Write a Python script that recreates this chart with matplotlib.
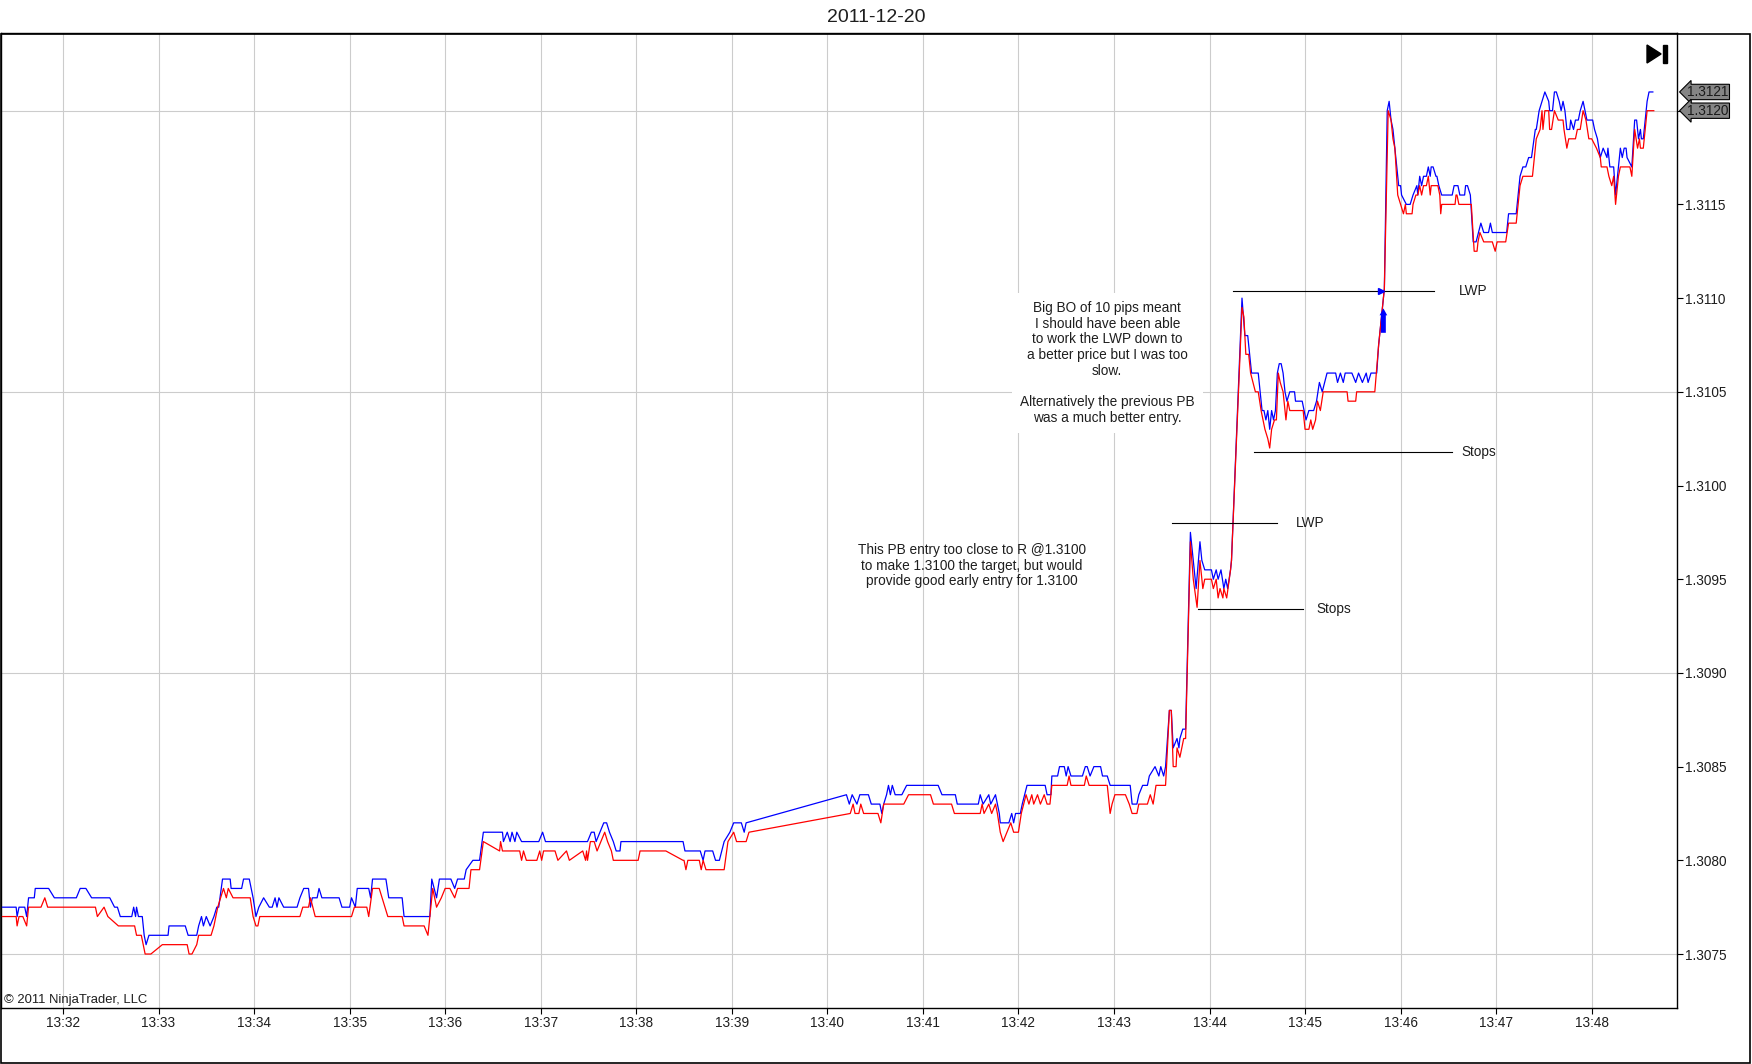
import matplotlib.pyplot as plt
from matplotlib.patches import Rectangle, Polygon
from matplotlib.transforms import blended_transform_factory

plt.rcParams['font.family'] = ['Liberation Sans', 'DejaVu Sans']

# chart title and axes
title = '2011-12-20'
tick_minutes = list(range(32, 49))
tick_labels = ['13:%02d' % m for m in tick_minutes]
price_ticks = [1.3075, 1.3080, 1.3085, 1.3090, 1.3095, 1.3100, 1.3105, 1.3110, 1.3115, 1.3120]
grid_prices = [1.3075, 1.3090, 1.3105, 1.3120]

# ask (blue) ticks: (minutes after 13:00, price)
ask_ticks = [
    (31.34, 1.30775), (31.51, 1.30775), (31.52, 1.30770), (31.54, 1.30775), (31.60, 1.30775),
    (31.62, 1.30770), (31.64, 1.30780), (31.70, 1.30780), (31.71, 1.30785), (31.85, 1.30785),
    (31.91, 1.30780), (32.14, 1.30780), (32.18, 1.30785), (32.24, 1.30785), (32.30, 1.30780),
    (32.49, 1.30780), (32.54, 1.30775), (32.57, 1.30775), (32.60, 1.30770), (32.72, 1.30770),
    (32.74, 1.30775), (32.76, 1.30770), (32.77, 1.30775), (32.79, 1.30770), (32.83, 1.30770),
    (32.85, 1.30760), (32.87, 1.30755), (32.90, 1.30760), (33.10, 1.30760), (33.11, 1.30765),
    (33.28, 1.30765), (33.31, 1.30760), (33.40, 1.30760), (33.42, 1.30765), (33.45, 1.30770),
    (33.47, 1.30765), (33.50, 1.30770), (33.54, 1.30765), (33.58, 1.30770), (33.61, 1.30775),
    (33.63, 1.30775), (33.67, 1.30790), (33.75, 1.30790), (33.76, 1.30785), (33.87, 1.30785),
    (33.89, 1.30790), (33.95, 1.30790), (33.97, 1.30785), (33.99, 1.30780), (34.02, 1.30770),
    (34.05, 1.30775), (34.10, 1.30780), (34.16, 1.30775), (34.19, 1.30775), (34.22, 1.30780),
    (34.24, 1.30775), (34.26, 1.30780), (34.31, 1.30775), (34.45, 1.30775), (34.48, 1.30780),
    (34.52, 1.30785), (34.57, 1.30785), (34.59, 1.30775), (34.61, 1.30780), (34.66, 1.30780),
    (34.68, 1.30785), (34.71, 1.30780), (34.89, 1.30780), (34.92, 1.30775), (35.00, 1.30775),
    (35.02, 1.30780), (35.06, 1.30775), (35.08, 1.30785), (35.20, 1.30785), (35.22, 1.30780),
    (35.24, 1.30790), (35.38, 1.30790), (35.41, 1.30780), (35.55, 1.30780), (35.57, 1.30770),
    (35.84, 1.30770), (35.86, 1.30790), (35.91, 1.30780), (35.94, 1.30790), (36.06, 1.30790),
    (36.10, 1.30785), (36.13, 1.30790), (36.20, 1.30790), (36.22, 1.30795), (36.29, 1.30800),
    (36.36, 1.30800), (36.40, 1.30815), (36.60, 1.30815), (36.61, 1.30810), (36.65, 1.30815),
    (36.68, 1.30810), (36.70, 1.30815), (36.73, 1.30810), (36.75, 1.30815), (36.80, 1.30810),
    (36.98, 1.30810), (37.02, 1.30815), (37.05, 1.30810), (37.49, 1.30810), (37.53, 1.30815),
    (37.56, 1.30815), (37.58, 1.30810), (37.62, 1.30815), (37.66, 1.30820), (37.69, 1.30820),
    (37.72, 1.30815), (37.76, 1.30810), (37.79, 1.30805), (37.83, 1.30805), (37.84, 1.30810),
    (38.49, 1.30810), (38.51, 1.30805), (38.67, 1.30805), (38.70, 1.30800), (38.72, 1.30805),
    (38.80, 1.30805), (38.83, 1.30800), (38.87, 1.30800), (38.92, 1.30810), (38.98, 1.30815),
    (39.02, 1.30820), (39.10, 1.30820), (39.13, 1.30815), (39.15, 1.30820), (40.20, 1.30835),
    (40.23, 1.30830), (40.26, 1.30835), (40.31, 1.30830), (40.34, 1.30835), (40.43, 1.30835),
    (40.46, 1.30830), (40.55, 1.30830), (40.57, 1.30825), (40.59, 1.30830), (40.62, 1.30835),
    (40.64, 1.30840), (40.66, 1.30835), (40.68, 1.30840), (40.71, 1.30835), (40.78, 1.30835),
    (40.83, 1.30840), (41.16, 1.30840), (41.20, 1.30835), (41.34, 1.30835), (41.36, 1.30830),
    (41.58, 1.30830), (41.60, 1.30835), (41.63, 1.30830), (41.69, 1.30835), (41.71, 1.30830),
    (41.76, 1.30835), (41.78, 1.30830), (41.80, 1.30825), (41.81, 1.30820), (41.90, 1.30820),
    (41.93, 1.30825), (41.95, 1.30820), (41.97, 1.30825), (42.02, 1.30825), (42.04, 1.30830),
    (42.09, 1.30840), (42.28, 1.30840), (42.30, 1.30835), (42.34, 1.30835), (42.35, 1.30845),
    (42.41, 1.30845), (42.43, 1.30850), (42.48, 1.30850), (42.50, 1.30845), (42.52, 1.30850),
    (42.55, 1.30845), (42.67, 1.30845), (42.70, 1.30850), (42.72, 1.30850), (42.75, 1.30845),
    (42.79, 1.30850), (42.86, 1.30850), (42.88, 1.30845), (42.93, 1.30845), (42.96, 1.30840),
    (43.17, 1.30840), (43.19, 1.30830), (43.24, 1.30830), (43.26, 1.30835), (43.30, 1.30840),
    (43.35, 1.30840), (43.37, 1.30845), (43.43, 1.30850), (43.47, 1.30845), (43.49, 1.30850),
    (43.52, 1.30845), (43.54, 1.30850), (43.58, 1.30880), (43.60, 1.30880), (43.62, 1.30860),
    (43.66, 1.30865), (43.68, 1.30860), (43.69, 1.30865), (43.72, 1.30870), (43.75, 1.30870),
    (43.80, 1.30975), (43.83, 1.30960), (43.85, 1.30950), (43.86, 1.30945), (43.90, 1.30970),
    (43.92, 1.30960), (43.95, 1.30955), (44.02, 1.30955), (44.04, 1.30950), (44.07, 1.30955),
    (44.09, 1.30950), (44.12, 1.30955), (44.15, 1.30945), (44.17, 1.30950), (44.19, 1.30945),
    (44.22, 1.30955), (44.23, 1.30960), (44.34, 1.31100), (44.37, 1.31080), (44.40, 1.31080),
    (44.42, 1.31070), (44.44, 1.31060), (44.51, 1.31060), (44.53, 1.31050), (44.55, 1.31040),
    (44.57, 1.31040), (44.59, 1.31035), (44.61, 1.31040), (44.63, 1.31030), (44.65, 1.31040),
    (44.67, 1.31035), (44.69, 1.31040), (44.71, 1.31060), (44.73, 1.31065), (44.75, 1.31065),
    (44.77, 1.31060), (44.79, 1.31050), (44.81, 1.31045), (44.84, 1.31050), (44.89, 1.31050),
    (44.90, 1.31045), (44.97, 1.31045), (44.99, 1.31040), (45.01, 1.31035), (45.04, 1.31040),
    (45.09, 1.31040), (45.12, 1.31045), (45.15, 1.31055), (45.18, 1.31050), (45.23, 1.31060),
    (45.32, 1.31060), (45.34, 1.31055), (45.37, 1.31060), (45.40, 1.31055), (45.42, 1.31060),
    (45.49, 1.31060), (45.53, 1.31055), (45.56, 1.31060), (45.60, 1.31055), (45.64, 1.31060),
    (45.66, 1.31055), (45.69, 1.31060), (45.75, 1.31060), (45.77, 1.31075), (45.80, 1.31090),
    (45.83, 1.31105), (45.86, 1.31200), (45.88, 1.31205), (45.90, 1.31195), (45.92, 1.31190),
    (45.93, 1.31185), (45.95, 1.31175), (45.97, 1.31165), (45.98, 1.31160), (46.00, 1.31160),
    (46.01, 1.31155), (46.06, 1.31150), (46.10, 1.31150), (46.13, 1.31155), (46.17, 1.31160),
    (46.18, 1.31155), (46.20, 1.31165), (46.22, 1.31160), (46.24, 1.31165), (46.27, 1.31165),
    (46.29, 1.31170), (46.31, 1.31165), (46.32, 1.31170), (46.34, 1.31170), (46.37, 1.31165),
    (46.38, 1.31165), (46.40, 1.31160), (46.43, 1.31155), (46.54, 1.31155), (46.56, 1.31160),
    (46.60, 1.31160), (46.62, 1.31155), (46.67, 1.31155), (46.68, 1.31160), (46.70, 1.31160),
    (46.73, 1.31155), (46.76, 1.31130), (46.79, 1.31130), (46.84, 1.31140), (46.87, 1.31135),
    (46.92, 1.31135), (46.94, 1.31140), (46.96, 1.31135), (47.11, 1.31135), (47.13, 1.31145),
    (47.21, 1.31145), (47.25, 1.31165), (47.28, 1.31170), (47.31, 1.31170), (47.34, 1.31175),
    (47.37, 1.31175), (47.41, 1.31190), (47.42, 1.31190), (47.45, 1.31200), (47.48, 1.31205),
    (47.51, 1.31210), (47.55, 1.31205), (47.56, 1.31200), (47.59, 1.31200), (47.61, 1.31210),
    (47.63, 1.31210), (47.66, 1.31205), (47.68, 1.31200), (47.70, 1.31205), (47.72, 1.31200),
    (47.74, 1.31190), (47.77, 1.31190), (47.78, 1.31195), (47.81, 1.31190), (47.83, 1.31195),
    (47.86, 1.31195), (47.88, 1.31200), (47.91, 1.31205), (47.93, 1.31200), (47.95, 1.31195),
    (48.01, 1.31195), (48.03, 1.31190), (48.06, 1.31185), (48.09, 1.31175), (48.12, 1.31180),
    (48.16, 1.31175), (48.17, 1.31180), (48.19, 1.31170), (48.23, 1.31170), (48.25, 1.31155),
    (48.28, 1.31170), (48.30, 1.31180), (48.32, 1.31175), (48.34, 1.31180), (48.36, 1.31180),
    (48.37, 1.31175), (48.42, 1.31170), (48.45, 1.31195), (48.47, 1.31195), (48.49, 1.31185),
    (48.51, 1.31190), (48.52, 1.31185), (48.54, 1.31185), (48.56, 1.31195), (48.58, 1.31205),
    (48.60, 1.31210), (48.64, 1.31210),
]

# bid (red) ticks
bid_ticks = [
    (31.34, 1.30770), (31.51, 1.30770), (31.52, 1.30765), (31.54, 1.30770), (31.58, 1.30770),
    (31.62, 1.30765), (31.64, 1.30775), (31.77, 1.30775), (31.81, 1.30780), (31.84, 1.30775),
    (32.34, 1.30775), (32.36, 1.30770), (32.43, 1.30775), (32.47, 1.30770), (32.58, 1.30765),
    (32.75, 1.30765), (32.77, 1.30760), (32.82, 1.30760), (32.86, 1.30750), (32.92, 1.30750),
    (33.04, 1.30755), (33.30, 1.30755), (33.32, 1.30750), (33.35, 1.30750), (33.40, 1.30755),
    (33.42, 1.30760), (33.55, 1.30760), (33.58, 1.30765), (33.62, 1.30775), (33.68, 1.30785),
    (33.71, 1.30780), (33.73, 1.30785), (33.78, 1.30780), (33.96, 1.30780), (33.99, 1.30770),
    (34.02, 1.30765), (34.04, 1.30765), (34.06, 1.30770), (34.48, 1.30770), (34.51, 1.30775),
    (34.57, 1.30775), (34.59, 1.30780), (34.64, 1.30770), (35.02, 1.30770), (35.05, 1.30775),
    (35.18, 1.30775), (35.20, 1.30770), (35.24, 1.30785), (35.31, 1.30785), (35.34, 1.30780),
    (35.40, 1.30770), (35.55, 1.30770), (35.57, 1.30765), (35.78, 1.30765), (35.82, 1.30760),
    (35.84, 1.30770), (35.87, 1.30785), (35.91, 1.30775), (35.96, 1.30780), (36.00, 1.30785),
    (36.05, 1.30785), (36.10, 1.30780), (36.13, 1.30785), (36.25, 1.30785), (36.27, 1.30795),
    (36.36, 1.30795), (36.40, 1.30810), (36.57, 1.30805), (36.58, 1.30810), (36.60, 1.30805),
    (36.78, 1.30805), (36.80, 1.30800), (36.82, 1.30805), (36.85, 1.30800), (36.96, 1.30800),
    (36.99, 1.30805), (37.01, 1.30800), (37.03, 1.30805), (37.15, 1.30805), (37.18, 1.30800),
    (37.27, 1.30805), (37.30, 1.30800), (37.44, 1.30805), (37.47, 1.30800), (37.48, 1.30805),
    (37.49, 1.30800), (37.52, 1.30810), (37.56, 1.30810), (37.59, 1.30805), (37.63, 1.30810),
    (37.67, 1.30815), (37.70, 1.30810), (37.74, 1.30805), (37.76, 1.30800), (38.02, 1.30800),
    (38.04, 1.30805), (38.31, 1.30805), (38.49, 1.30800), (38.50, 1.30800), (38.52, 1.30795),
    (38.54, 1.30800), (38.66, 1.30800), (38.68, 1.30795), (38.70, 1.30800), (38.73, 1.30795),
    (38.92, 1.30795), (38.96, 1.30810), (39.02, 1.30815), (39.05, 1.30810), (39.15, 1.30810),
    (39.18, 1.30815), (40.24, 1.30825), (40.27, 1.30830), (40.29, 1.30825), (40.33, 1.30825),
    (40.35, 1.30830), (40.38, 1.30825), (40.53, 1.30825), (40.56, 1.30820), (40.59, 1.30830),
    (40.80, 1.30830), (40.85, 1.30835), (41.08, 1.30835), (41.11, 1.30830), (41.30, 1.30830),
    (41.33, 1.30825), (41.60, 1.30825), (41.62, 1.30830), (41.64, 1.30825), (41.69, 1.30830),
    (41.72, 1.30825), (41.76, 1.30830), (41.78, 1.30825), (41.81, 1.30815), (41.84, 1.30810),
    (41.88, 1.30815), (41.92, 1.30820), (41.95, 1.30815), (42.00, 1.30815), (42.03, 1.30825),
    (42.08, 1.30835), (42.11, 1.30830), (42.14, 1.30835), (42.16, 1.30830), (42.20, 1.30835),
    (42.23, 1.30830), (42.27, 1.30835), (42.30, 1.30830), (42.33, 1.30830), (42.35, 1.30840),
    (42.51, 1.30840), (42.53, 1.30845), (42.55, 1.30840), (42.69, 1.30840), (42.71, 1.30845),
    (42.74, 1.30840), (42.93, 1.30840), (42.96, 1.30825), (42.98, 1.30830), (43.01, 1.30835),
    (43.12, 1.30835), (43.16, 1.30830), (43.19, 1.30825), (43.24, 1.30825), (43.26, 1.30830),
    (43.35, 1.30830), (43.38, 1.30835), (43.41, 1.30830), (43.44, 1.30840), (43.54, 1.30840),
    (43.55, 1.30850), (43.58, 1.30880), (43.60, 1.30880), (43.62, 1.30850), (43.65, 1.30850),
    (43.66, 1.30860), (43.69, 1.30855), (43.71, 1.30860), (43.73, 1.30865), (43.75, 1.30865),
    (43.80, 1.30970), (43.83, 1.30950), (43.87, 1.30935), (43.90, 1.30960), (43.93, 1.30945),
    (43.95, 1.30950), (44.02, 1.30950), (44.04, 1.30945), (44.07, 1.30950), (44.09, 1.30940),
    (44.11, 1.30945), (44.14, 1.30940), (44.15, 1.30945), (44.18, 1.30940), (44.22, 1.30955),
    (44.23, 1.30960), (44.34, 1.31095), (44.36, 1.31090), (44.38, 1.31070), (44.41, 1.31070),
    (44.43, 1.31060), (44.48, 1.31050), (44.51, 1.31050), (44.54, 1.31040), (44.58, 1.31030),
    (44.61, 1.31025), (44.63, 1.31020), (44.65, 1.31030), (44.68, 1.31035), (44.70, 1.31035),
    (44.72, 1.31060), (44.74, 1.31055), (44.77, 1.31050), (44.80, 1.31035), (44.82, 1.31045),
    (44.84, 1.31040), (44.98, 1.31040), (45.00, 1.31030), (45.04, 1.31030), (45.06, 1.31035),
    (45.08, 1.31030), (45.11, 1.31035), (45.13, 1.31045), (45.16, 1.31040), (45.19, 1.31050),
    (45.44, 1.31050), (45.45, 1.31045), (45.53, 1.31045), (45.54, 1.31050), (45.73, 1.31050),
    (45.77, 1.31075), (45.80, 1.31090), (45.83, 1.31105), (45.87, 1.31200), (45.90, 1.31195),
    (45.92, 1.31185), (45.94, 1.31180), (45.97, 1.31155), (46.00, 1.31150), (46.03, 1.31145),
    (46.05, 1.31150), (46.06, 1.31145), (46.12, 1.31145), (46.13, 1.31150), (46.16, 1.31155),
    (46.18, 1.31155), (46.20, 1.31160), (46.22, 1.31155), (46.24, 1.31160), (46.27, 1.31160),
    (46.29, 1.31165), (46.31, 1.31155), (46.32, 1.31160), (46.39, 1.31160), (46.41, 1.31155),
    (46.42, 1.31145), (46.43, 1.31150), (46.57, 1.31150), (46.58, 1.31155), (46.59, 1.31155),
    (46.61, 1.31150), (46.74, 1.31150), (46.77, 1.31125), (46.80, 1.31125), (46.81, 1.31130),
    (46.83, 1.31135), (46.87, 1.31130), (46.96, 1.31130), (46.99, 1.31125), (47.01, 1.31130),
    (47.10, 1.31130), (47.13, 1.31140), (47.21, 1.31140), (47.25, 1.31160), (47.28, 1.31165),
    (47.38, 1.31165), (47.39, 1.31170), (47.42, 1.31185), (47.46, 1.31190), (47.48, 1.31200),
    (47.49, 1.31190), (47.51, 1.31200), (47.55, 1.31200), (47.56, 1.31190), (47.58, 1.31190),
    (47.61, 1.31200), (47.65, 1.31195), (47.70, 1.31195), (47.71, 1.31190), (47.74, 1.31180),
    (47.76, 1.31185), (47.83, 1.31185), (47.85, 1.31190), (47.88, 1.31190), (47.91, 1.31200),
    (47.94, 1.31195), (47.97, 1.31185), (48.00, 1.31185), (48.05, 1.31180), (48.09, 1.31175),
    (48.10, 1.31170), (48.16, 1.31170), (48.18, 1.31165), (48.21, 1.31160), (48.23, 1.31165),
    (48.25, 1.31150), (48.28, 1.31165), (48.30, 1.31170), (48.40, 1.31170), (48.42, 1.31165),
    (48.45, 1.31190), (48.48, 1.31180), (48.50, 1.31185), (48.51, 1.31180), (48.54, 1.31180),
    (48.56, 1.31190), (48.58, 1.31200), (48.65, 1.31200),
]

# drawn levels: name, price, start, end, where the name sits
level_names = ['LWP', 'Stops', 'LWP', 'Stops']
level_prices = [1.31104, 1.31018, 1.30980, 1.30934]
level_start = [44.25, 44.47, 43.61, 43.88]
level_end = [46.35, 46.54, 44.71, 44.98]
level_label_at = [46.61, 46.64, 44.90, 45.12]

last_prices = [1.3121, 1.3120]
entry_time = 45.80
entry_price = 1.31104

note_big = ('Big BO of 10 pips meant\nI should have been able\nto work the LWP down to\n'
            'a better price but I was too\nslow.\n\nAlternatively the previous PB\n'
            'was a much better entry.')
note_pb = ('This PB entry too close to R @1.3100\nto make 1.3100 the target, but would\n'
           'provide good early entry for 1.3100')

fig = plt.figure(figsize=(17.52, 10.64), dpi=100)
ax = fig.add_axes([0.0006, 0.05263, 0.9566, 0.9159])

ask_t, ask_p = zip(*ask_ticks)
bid_t, bid_p = zip(*bid_ticks)
ax.plot(ask_t, ask_p, color='#0000ff', lw=0.9, zorder=3)
ax.plot(bid_t, bid_p, color='#ff0000', lw=0.9, zorder=3.1)

ax.set_xlim(31.352, 48.893)
ax.set_ylim(1.307212, 1.312412)

ax.set_xticks(tick_minutes)
ax.set_xticklabels(tick_labels)
ax.yaxis.tick_right()
ax.set_yticks(price_ticks)
# the last-price marker takes the place of the label at the current price
ax.set_yticklabels(['' if p in last_prices else '%.4f' % p for p in price_ticks])
ax.tick_params(axis='both', which='major', direction='out', length=4, width=0.8,
               labelsize=9.8, labelcolor='#1e1e1e', pad=1.5)
ax.grid(axis='x', which='major', color='#cccccc', lw=0.8)
for p in grid_prices:
    ax.axhline(p, color='#cccccc', lw=0.8, zorder=1)
for s in ax.spines.values():
    s.set_color('black')
    s.set_linewidth(1.0)

# level lines and their labels
for name, p, t0, t1, tl in zip(level_names, level_prices, level_start, level_end, level_label_at):
    ax.plot([t0, t1], [p, p], color='black', lw=0.8, zorder=4)
    ax.text(tl, p, name, fontsize=9.8, color='#1e1e1e', va='center', ha='left')

# entry markers
ax.plot([entry_time], [entry_price], marker='>', color='#0000ff', ms=5, zorder=5)
ax.annotate('', xy=(entry_time + 0.02, 1.31096), xytext=(entry_time + 0.02, 1.31080),
            arrowprops=dict(arrowstyle='simple,head_width=0.55,head_length=0.5,tail_width=0.35',
                            color='#0000ff', lw=0), zorder=5)

ax.text(42.93, 1.310654, note_big, fontsize=9.8, color='#1e1e1e', ha='center', va='center',
        multialignment='center', linespacing=1.15,
        bbox=dict(boxstyle='square,pad=0.6', fc='white', ec='none'), zorder=4)
ax.text(41.51, 1.309572, note_pb, fontsize=9.8, color='#1e1e1e', ha='center', va='center',
        multialignment='center', linespacing=1.15, zorder=4)

# last price markers on the price axis
trans = blended_transform_factory(ax.transAxes, ax.transData)
for p in last_prices:
    ax.annotate('%.4f' % p, xy=(1, p), xycoords=trans, xytext=(7.5, 0),
                textcoords='offset points', ha='left', va='center', fontsize=9.8,
                color='#1a1a1a', annotation_clip=False, zorder=6,
                bbox=dict(boxstyle='larrow,pad=0.05', fc='#858585', ec='black', lw=0.8))

# "go to end" icon
ax.add_patch(Polygon([(0.9821, 0.9882), (0.9821, 0.9697), (0.9905, 0.9790)],
                     closed=True, transform=ax.transAxes, color='black', zorder=6))
ax.add_patch(Rectangle((0.9917, 0.9697), 0.0024, 0.0185, transform=ax.transAxes,
                       color='black', zorder=6))

ax.text(0.0018, 0.0085, '\u00a9 2011 NinjaTrader, LLC', transform=ax.transAxes,
        fontsize=9.4, color='#1e1e1e', va='center', ha='left')

fig.text(0.5, 0.984, title, ha='center', va='center', fontsize=14, color='#1e1e1e')
fig.add_artist(Rectangle((0.0006, 0.0009), 0.9983, 0.9676, transform=fig.transFigure,
                         fill=False, ec='black', lw=1.2))

fig.savefig('out.png', dpi=100)
